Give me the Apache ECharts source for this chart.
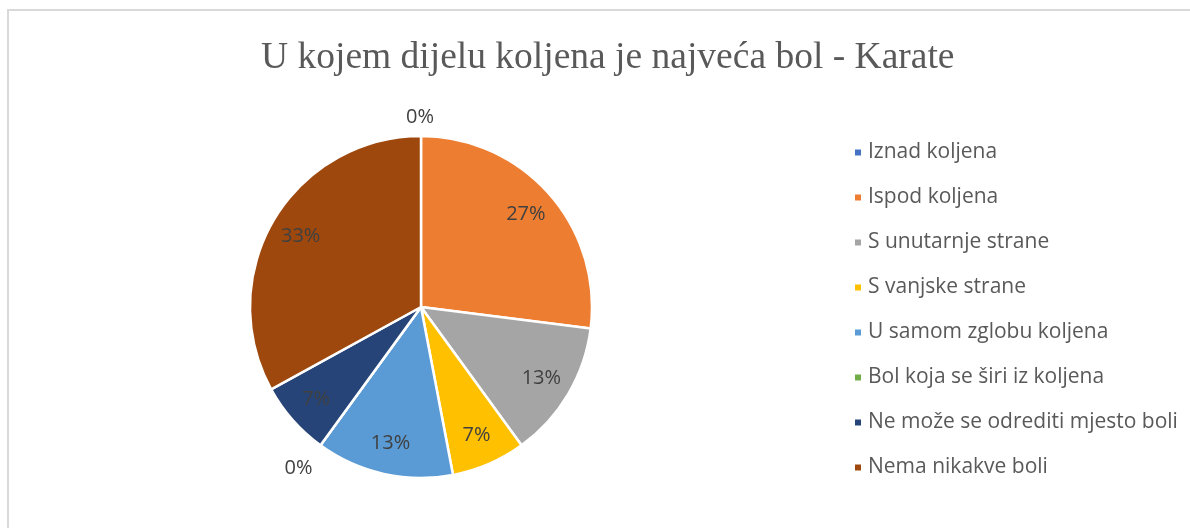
<!DOCTYPE html>
<html>
<head>
<meta charset="utf-8">
<script src="https://cdn.jsdelivr.net/npm/echarts@6/dist/echarts.min.js"></script>
<style>
html,body{margin:0;padding:0;background:#fff;}
#frame{position:absolute;left:7px;top:9px;width:1183px;height:519px;border-left:2px solid #d9d9d9;border-top:2px solid #d9d9d9;box-sizing:border-box;}
#chart{position:absolute;left:0;top:0;width:1190px;height:528px;}
</style>
</head>
<body>
<div id="frame"></div>
<div id="chart"></div>
<script>
const titleText = 'U kojem dijelu koljena je najveća bol - Karate';
const categories = ['Iznad koljena','Ispod koljena','S unutarnje strane','S vanjske strane','U samom zglobu koljena','Bol koja se širi iz koljena','Ne može se odrediti mjesto boli','Nema nikakve boli'];
const values = [0, 27, 13, 7, 13, 0, 7, 33];
const colors = ['#4472C4','#ED7D31','#A5A5A5','#FFC000','#5B9BD5','#70AD47','#264478','#9E480E'];

const chart = echarts.init(document.getElementById('chart'), null, {renderer:'canvas'});

const R = 171;
const center = [421, 307];
const zeroLabelShift = [[18, 3], [10, 5]];

let zi = 0;
const pieData = categories.map((c,i)=>({name:c, value:values[i], itemStyle:{color:colors[i]}}));
const labelData = categories.map((c,i)=>{
  const zero = values[i] === 0;
  return {
    name:c, value:values[i],
    label: zero ? {position:'outside', offset:zeroLabelShift[zi++]} : {position:'inside'},
    labelLine: {show:false}
  };
});

chart.setOption({
  animation:false,
  title:{
    text:titleText, left:256, top:34,
    textStyle:{fontFamily:'Liberation Serif', fontSize:37.5, fontWeight:'normal', color:'#595959'}
  },
  legend:{
    orient:'vertical', left:848, top:137,
    itemWidth:8, itemHeight:8, itemGap:24, icon:'rect',
    data:categories,
    textStyle:{fontFamily:'Open Sans', fontSize:21, color:'#595959', padding:[0,0,0,1]}
  },
  series:[
    {
      type:'pie', radius:[0,R], center:center, startAngle:90, clockwise:true,
      label:{show:false}, labelLine:{show:false},
      itemStyle:{borderColor:'#fff', borderWidth:2.5},
      emphasis:{disabled:true},
      data:pieData
    },
    {
      type:'pie', radius:[R*0.6,R], center:center, startAngle:90, clockwise:true,
      silent:true, legendHoverLink:false,
      percentPrecision:0,
      itemStyle:{color:'rgba(0,0,0,0)', borderWidth:0},
      label:{show:true, formatter:'{d}%', fontFamily:'Open Sans', fontSize:20, color:'#404040'},
      labelLine:{show:false, length:22, length2:0},
      emphasis:{disabled:true},
      tooltip:{show:false},
      data:labelData
    }
  ]
});
</script>
</body>
</html>
